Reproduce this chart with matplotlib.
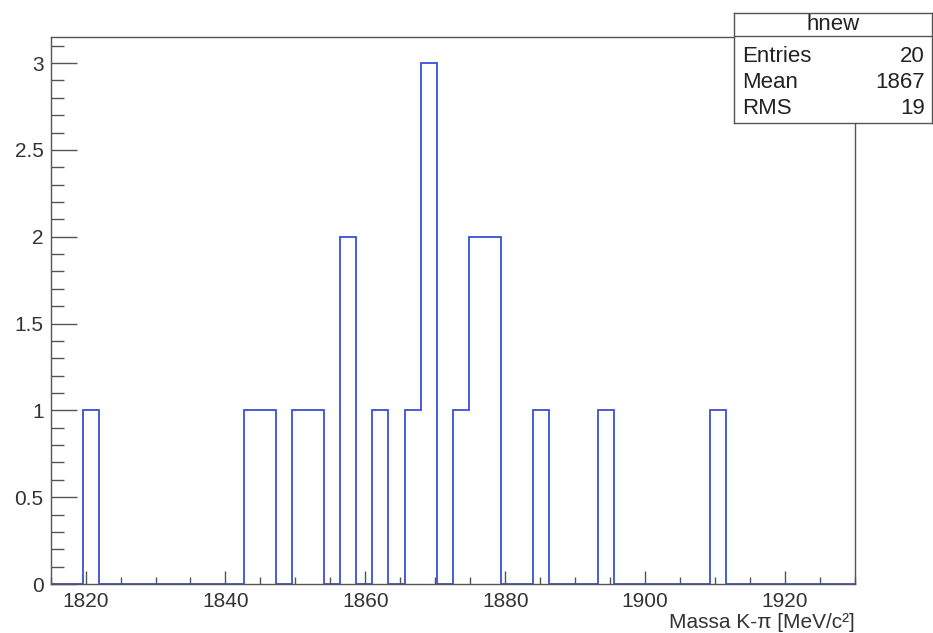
import numpy as np
import matplotlib
matplotlib.use("Agg")
import matplotlib.pyplot as plt
from matplotlib.ticker import MultipleLocator

# histogram "hnew": 50 bins from 1815 to 1930
x_min = 1815
x_max = 1930
n_bins = 50
counts = [0, 0, 1, 0, 0, 0, 0, 0, 0, 0,
          0, 0, 1, 1, 0, 1, 1, 0, 2, 0,
          1, 0, 1, 3, 0, 1, 2, 2, 0, 0,
          1, 0, 0, 0, 1, 0, 0, 0, 0, 0,
          0, 1, 0, 0, 0, 0, 0, 0, 0, 0]

stats_title = "hnew"
stats_labels = ["Entries", "Mean", "RMS"]
stats_values = ["20", "1867", "19"]

plt.rcParams['font.family'] = ['Liberation Sans', 'DejaVu Sans']

W, H = 933, 633
fig = plt.figure(figsize=(W / 100, H / 100), dpi=100)
ax = fig.add_axes([50.6 / W, 1 - 584 / H, (855 - 50.6) / W, (584 - 37) / H])

edges = np.linspace(x_min, x_max, n_bins + 1)
ax.stairs(counts, edges, color="#3a4fd4", linewidth=1.3)

ax.set_xlim(x_min, x_max)
ax.set_ylim(0, 1.05 * max(counts))

frame_col = "#555555"
txt_col = "#333333"
for s in ax.spines.values():
    s.set_color(frame_col)
    s.set_linewidth(1.0)
    s.set_zorder(3)

ax.xaxis.set_major_locator(MultipleLocator(20))
ax.xaxis.set_minor_locator(MultipleLocator(5))
ax.yaxis.set_major_locator(MultipleLocator(0.5))
ax.yaxis.set_minor_locator(MultipleLocator(0.1))
ax.tick_params(axis="x", which="major", direction="in", length=9.5, width=1,
               color=frame_col, labelsize=15, pad=6, labelcolor=txt_col)
ax.tick_params(axis="x", which="minor", direction="in", length=5, width=1,
               color=frame_col)
ax.tick_params(axis="y", which="major", direction="in", length=18.5, width=1,
               color=frame_col, labelsize=15, pad=5, labelcolor=txt_col)
ax.tick_params(axis="y", which="minor", direction="in", length=9.3, width=1,
               color=frame_col)
ax.yaxis.set_major_formatter(plt.FuncFormatter(lambda v, p: f"{v:g}"))

ax.set_xlabel("Massa K-π [MeV/c²]", fontsize=15, color=txt_col)
ax.xaxis.set_label_coords(1.0, -0.053)
ax.xaxis.label.set_horizontalalignment("right")

# stats box
sb = fig.add_axes([734 / W, 1 - 123 / H, (932 - 734) / W, (123 - 13) / H])
sb.set_xticks([])
sb.set_yticks([])
sb.set_xlim(0, 1)
sb.set_ylim(0, 1)
for s in sb.spines.values():
    s.set_color(frame_col)
    s.set_linewidth(1.0)
sb.axhline(1 - (36 - 13) / 110, color=frame_col, lw=1.0)
sb.text(0.5, 1 - (25 - 13) / 110, stats_title, ha="center", va="center",
        fontsize=16, color="#222222")
for i, (lab, val) in enumerate(zip(stats_labels, stats_values)):
    yy = 1 - (56 + 26 * i - 13) / 110
    sb.text(0.04, yy, lab, ha="left", va="center", fontsize=16, color="#222222")
    sb.text(0.965, yy, val, ha="right", va="center", fontsize=16, color="#222222")

fig.savefig("out.png", dpi=100, facecolor="white")
